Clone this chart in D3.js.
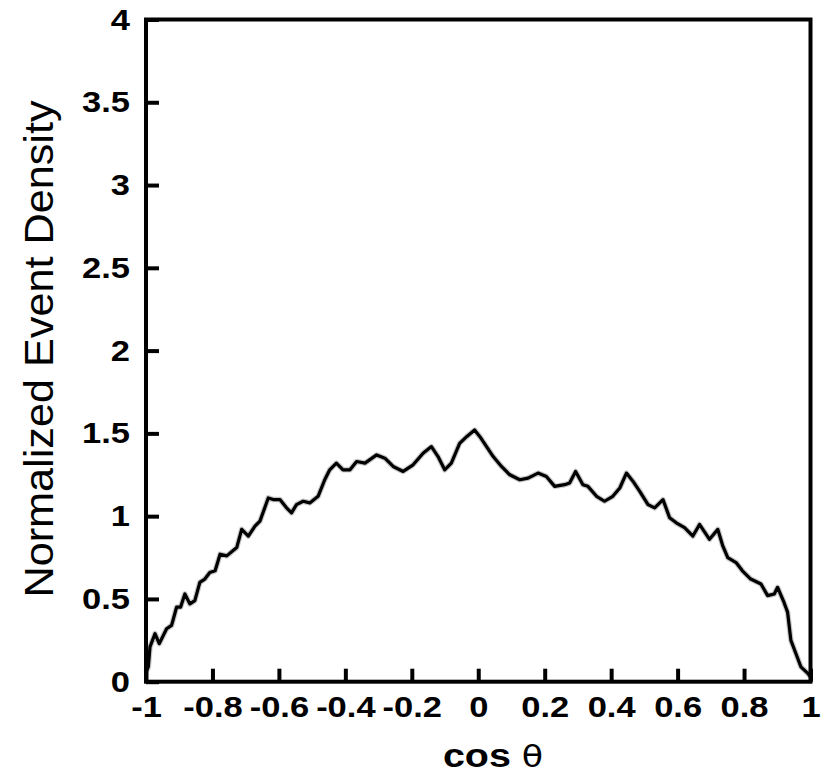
<!DOCTYPE html>
<html>
<head>
<meta charset="utf-8">
<script src="https://cdn.jsdelivr.net/npm/d3@7"></script>
<style>
  body { margin: 0; background: #fff; }
  svg { display: block; }
  .tick text { font-family: "Liberation Sans", Arial, sans-serif; font-weight: bold; font-size: 30px; fill: #000; }
</style>
</head>
<body>
<script>
// values: cos(theta) and normalized event density
const cosTheta = [-1.0, -0.993, -0.988, -0.973, -0.96, -0.938, -0.923, -0.908, -0.896, -0.883,
  -0.868, -0.853, -0.838, -0.823, -0.808, -0.792, -0.777, -0.757, -0.727, -0.712,
  -0.692, -0.672, -0.657, -0.632, -0.617, -0.597, -0.577, -0.562, -0.547, -0.527,
  -0.507, -0.482, -0.462, -0.447, -0.427, -0.407, -0.386, -0.366, -0.341, -0.306,
  -0.281, -0.256, -0.226, -0.196, -0.166, -0.141, -0.121, -0.101, -0.081, -0.056,
  -0.035, -0.011, 0.005, 0.025, 0.045, 0.070, 0.095, 0.125, 0.150, 0.180,
  0.205, 0.230, 0.260, 0.275, 0.293, 0.315, 0.330, 0.356, 0.380, 0.405,
  0.426, 0.446, 0.466, 0.486, 0.511, 0.531, 0.556, 0.576, 0.596, 0.621,
  0.646, 0.666, 0.696, 0.721, 0.736, 0.751, 0.776, 0.795, 0.820, 0.851,
  0.871, 0.891, 0.901, 0.920, 0.931, 0.941, 0.956, 0.971, 0.992, 1.0];
const density = [0.06, 0.09, 0.21, 0.29, 0.23, 0.32, 0.34, 0.45, 0.45, 0.53,
  0.47, 0.49, 0.60, 0.62, 0.66, 0.67, 0.77, 0.76, 0.81, 0.92,
  0.88, 0.94, 0.97, 1.11, 1.10, 1.10, 1.05, 1.02, 1.07, 1.09,
  1.08, 1.12, 1.22, 1.28, 1.32, 1.28, 1.28, 1.33, 1.32, 1.37,
  1.35, 1.30, 1.27, 1.31, 1.38, 1.42, 1.36, 1.28, 1.32, 1.44,
  1.48, 1.52, 1.48, 1.42, 1.36, 1.30, 1.25, 1.22, 1.23, 1.26,
  1.24, 1.18, 1.19, 1.20, 1.27, 1.19, 1.18, 1.12, 1.09, 1.12,
  1.17, 1.26, 1.21, 1.15, 1.07, 1.05, 1.10, 0.99, 0.96, 0.93,
  0.88, 0.95, 0.86, 0.92, 0.82, 0.75, 0.72, 0.67, 0.62, 0.59,
  0.52, 0.53, 0.57, 0.48, 0.42, 0.25, 0.17, 0.09, 0.05, 0.03];
const xTicks = [-1, -0.8, -0.6, -0.4, -0.2, 0, 0.2, 0.4, 0.6, 0.8, 1];
const yTicks = [0, 0.5, 1, 1.5, 2, 2.5, 3, 3.5, 4];

const width = 830, height = 784;
const margin = { top: 19.5, right: 19.5, bottom: 102.3, left: 146 };
const plotW = width - margin.left - margin.right;
const plotH = height - margin.top - margin.bottom;

const svg = d3.select("body").append("svg")
    .attr("width", width)
    .attr("height", height);

const g = svg.append("g")
    .attr("transform", "translate(" + margin.left + "," + margin.top + ")");

const x = d3.scaleLinear().domain([-1, 1]).range([0, plotW]);
const y = d3.scaleLinear().domain([0, 4]).range([plotH, 0]);

// plain hyphen for negatives, like the original
const fmt = function (d) { return String(d); };

// axes with inward ticks
const xAxis = g.append("g")
    .attr("transform", "translate(0," + plotH + ")")
    .call(d3.axisBottom(x).tickValues(xTicks).tickSize(-13).tickPadding(14).tickFormat(fmt));
const yAxis = g.append("g")
    .call(d3.axisLeft(y).tickValues(yTicks).tickSize(-13).tickPadding(14).tickFormat(fmt));

[xAxis, yAxis].forEach(function (a) {
    a.select(".domain").remove();
    a.selectAll(".tick line").attr("stroke", "#000").attr("stroke-width", 4);
    a.selectAll(".tick text").attr("transform", "scale(1.15,1)");
});

// the curve, a soft grey halo under a black core
const line = d3.line()
    .x(function (d, i) { return x(cosTheta[i]); })
    .y(function (d) { return y(d); });

g.append("path")
    .datum(density)
    .attr("fill", "none")
    .attr("stroke", "#444")
    .attr("stroke-width", 5.5)
    .attr("stroke-opacity", 0.3)
    .attr("stroke-linejoin", "round")
    .attr("d", line);

g.append("path")
    .datum(density)
    .attr("fill", "none")
    .attr("stroke", "#000")
    .attr("stroke-width", 3.2)
    .attr("stroke-linejoin", "round")
    .attr("d", line);

// frame
g.append("rect")
    .attr("x", 0).attr("y", 0)
    .attr("width", plotW).attr("height", plotH)
    .attr("fill", "none")
    .attr("stroke", "#000")
    .attr("stroke-width", 4);

// axis titles
const xt = svg.append("text")
    .attr("transform", "translate(493,767) scale(1.16,1)")
    .attr("text-anchor", "middle")
    .attr("font-family", "Liberation Sans, Arial, sans-serif")
    .attr("font-size", 34)
    .attr("fill", "#000");
xt.append("tspan").attr("font-weight", "bold").text("cos ");
xt.append("tspan").attr("font-family", "DejaVu Sans, sans-serif").attr("font-size", 30).text("θ");

svg.append("text")
    .attr("transform", "translate(53,349) rotate(-90)")
    .attr("text-anchor", "middle")
    .attr("font-family", "Liberation Sans, Arial, sans-serif")
    .attr("font-size", 41)
    .attr("textLength", 497)
    .attr("lengthAdjust", "spacingAndGlyphs")
    .attr("fill", "#000")
    .text("Normalized Event Density");
</script>
</body>
</html>
